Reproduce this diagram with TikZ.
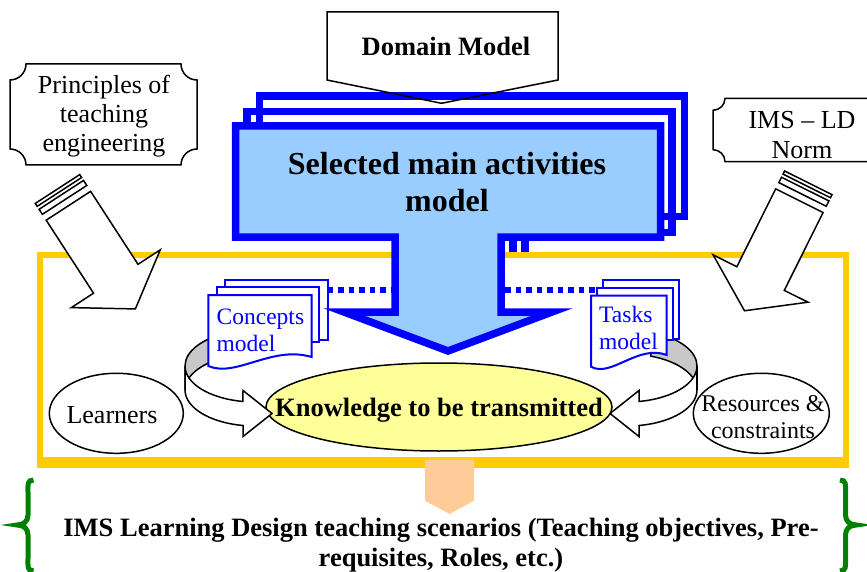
\documentclass[tikz,border=0pt]{standalone}
\usepackage{fontspec}
\setmainfont{Liberation Serif}
\usepackage{tikz}
\usetikzlibrary{shapes.geometric}

\definecolor{ldgold}{HTML}{FFCC00}
\definecolor{ldblue}{HTML}{0000FF}
\definecolor{ldsky}{HTML}{99CCFF}
\definecolor{ldlemon}{HTML}{FFFF99}
\definecolor{ldpeach}{HTML}{FFCC99}
\definecolor{ldgreen}{HTML}{008000}
\definecolor{ldgray}{HTML}{C8C8C8}

\tikzset{
  plaque/.style={draw,line width=1.5},
  fatarrow/.style={draw,fill=white,line width=1.5},
  actshape/.style={draw=ldblue,line width=7.5},
  docpage/.style={draw=ldblue,fill=white,line width=2},
  dotline/.style={draw=ldblue,line width=5.5,dash pattern=on 5.5 off 5},
  ribbon/.style={draw,fill=white,line width=1.5},
  oval/.style={ellipse,draw,line width=1.5,inner sep=0},
  txt/.style={inner sep=0,font=\fontsize{26}{29}\selectfont},
  boldtxt/.style={inner sep=0,font=\bfseries\fontsize{26.5}{30.7}\selectfont},
  doctxt/.style={inner sep=0,align=left,text=ldblue,font=\fontsize{23.5}{26.7}\selectfont},
  bracket/.style={draw=ldgreen,line width=5}
}

\begin{document}
\begin{tikzpicture}[x=1pt,y=-1pt]
\useasboundingbox (0,0) rectangle (867,572);
\clip (0,0) rectangle (867,572);

% copies behind the activities arrow
\foreach \l/\t/\r/\b/\s in {259.7/96.2/684.7/216.7/525,247/111.3/672/232.5/513}
  \draw[actshape] (\l,\t) -- (\r,\t) -- (\r,\b) -- (\s,\b) -- (\s,300) -- (\s-106,300) -- (\s-106,\b) -- (\l,\b) -- cycle;

\draw[plaque] (327,12) -- (558,12) -- (558,80) -- (441.5,103.3) -- (327,80) -- cycle;
\node (domain) at (446,56) [boldtxt,anchor=base] {Domain Model};

% frame
\draw[draw=ldgold,fill=white,line width=6] (39.5,254.5) rectangle (845.5,459.7);
\fill[ldgold] (36.5,459) rectangle (848.5,468.3);

\foreach \ox/\oy/\a in {57.5/189/-57,808.3/182.8/-116.5}{
\begin{scope}[shift={(\ox,\oy)},rotate=\a]
\draw[fatarrow] (0,-26.5) rectangle (3.5,26.5);
\draw[fatarrow] (7,-26.5) rectangle (13,26.5);
\draw[fatarrow] (20,-26.5) -- (107,-26.5) -- (107,-53) -- (143,0) -- (107,53) -- (107,26.5) -- (20,26.5) -- cycle;
\end{scope}}

\node (know) at (439,407) [oval,fill=ldlemon,minimum width=346,minimum height=88] {};
\node at (439,416) [boldtxt,anchor=base] {Knowledge to be transmitted};

% curved arrows
\foreach \s in {1,-1}{
\begin{scope}[shift={(441,0)},xscale=\s]
\draw[ribbon,fill=ldgray] ({-186+70*cos(250)},{366+36*sin(250)}) arc[start angle=250,end angle=180,x radius=70,y radius=36] -- ++(0,24) arc[start angle=180,end angle=250,x radius=70,y radius=36] -- cycle;
\draw[ribbon] (-256,366) arc[start angle=180,end angle=99.9,x radius=70,y radius=36] -- (-198,390.5) -- (-169,413.5) -- (-198,436.5) -- (-198,425.5) arc[start angle=99.9,end angle=180,x radius=70,y radius=36] -- cycle;
\end{scope}}

% documents
\draw[docpage] (225,280) rectangle (327.5,340);
\draw[docpage] (216.5,287) rectangle (319,341.5);
\draw[docpage] (208.3,295) -- (311.5,295) -- (311.5,357) .. controls (272,345) and (236,378) .. (208.3,366) -- cycle;
\node (concepts) at (216.5,330.4) [doctxt,anchor=west] {Concepts\\model};

\draw[docpage] (603,280) rectangle (678.7,338.5);
\draw[docpage] (597,287.5) rectangle (672.7,340);
\draw[docpage] (591,295.5) -- (666.7,295.5) -- (666.7,355) .. controls (638,344) and (611,378) .. (591,366.7) -- cycle;
\node (tasks) at (599,328.3) [doctxt,anchor=west] {Tasks\\model};

\coordinate (cpage) at (327.5,290);
\coordinate (stemL) at (391,290);
\coordinate (stemR) at (505,290);
\coordinate (tpage) at (597,290);
\draw[dotline] (cpage) -- (stemL);
\draw[dotline] (stemR) -- (tpage);

% activities arrow
\draw[actshape,fill=ldsky] (235.5,126) -- (660.5,126) -- (660.5,237) -- (501,237) -- (501,312) -- (552,312) -- (448,351) -- (344,312) -- (395,312) -- (395,237) -- (235.5,237) -- cycle;
\node (select) at (447,182.5) [boldtxt,align=center,font=\bfseries\fontsize{32}{37}\selectfont] {Selected main activities\\model};

\draw[plaque] (26,64) -- (181,64) arc[start angle=180,end angle=90,radius=16] -- (197,149) arc[start angle=270,end angle=180,radius=16] -- (26,165) arc[start angle=0,end angle=-90,radius=16] -- (10,80) arc[start angle=90,end angle=0,radius=16] -- cycle;
\node (princ) at (104,116) [txt,align=center] {Principles of\\teaching\\engineering};

\draw[plaque] (725,98.3) -- (879,98.3) arc[start angle=180,end angle=90,radius=12] -- (891,149.7) arc[start angle=270,end angle=180,radius=12] -- (725,161.7) arc[start angle=0,end angle=-90,radius=12] -- (713,110.3) arc[start angle=90,end angle=0,radius=12] -- cycle;
\node (norm) at (802,134.7) [txt,align=center,font=\fontsize{26}{30}\selectfont] {IMS -- LD\\Norm};

\node (learners) at (116.3,413.3) [oval,minimum width=134,minimum height=80] {};
\node at (112,423.3) [txt,anchor=base] {Learners};
\node (resources) at (761.3,413.3) [oval,minimum width=136,minimum height=80] {};
\node at (763,416.9) [txt,align=center,font=\fontsize{24}{26.6}\selectfont] {Resources \&\\constraints};

% output
\fill[ldpeach] (425,459.5) -- (474,459.5) -- (474,500.7) -- (449.5,514) -- (425,500.7) -- cycle;
\node (scen) at (441,545) [boldtxt,align=center] {IMS Learning Design teaching scenarios (Teaching objectives, Pre-\\requisites, Roles, etc.)};
\draw[bracket] (33.5,480) .. controls (27,480) and (28,485) .. (28,492) -- (28,515) .. controls (28,521) and (24,525) .. (17,525) .. controls (24,525) and (28,529) .. (28,535) -- (28,559) .. controls (28,566) and (27,571) .. (33.5,571);
\draw[bracket] (840,480) .. controls (846.5,480) and (845.5,485) .. (845.5,492) -- (845.5,515) .. controls (845.5,521) and (849.5,525) .. (856.5,525) .. controls (849.5,525) and (845.5,529) .. (845.5,535) -- (845.5,559) .. controls (845.5,566) and (846.5,571) .. (840,571);
\end{tikzpicture}
\end{document}
